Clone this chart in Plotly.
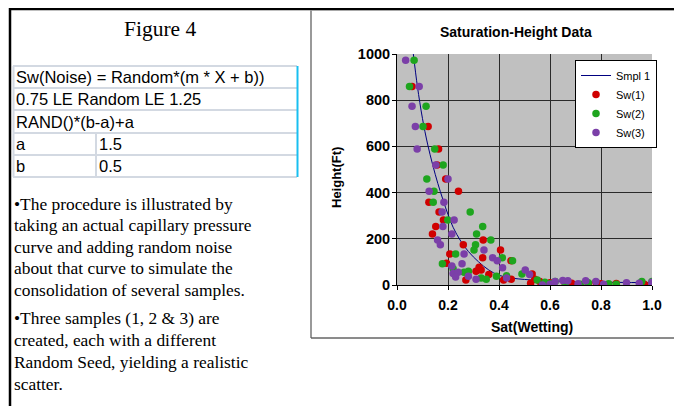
import plotly.graph_objects as go

OFF = 8  # page body margin
W, H = 682 - OFF, 406 - OFF

# ---------------- data ----------------
curve_sat = [0.064, 0.08, 0.10, 0.12, 0.14, 0.16, 0.18, 0.20, 0.22, 0.25, 0.28, 0.32, 0.36, 0.40, 0.45, 0.50, 0.55, 0.60, 0.70, 0.80, 0.90, 1.0]
curve_h = [1000, 860, 720, 610, 520, 440, 370, 305, 250, 190, 145, 100, 65, 42, 30, 24, 20, 17, 14, 12, 11, 10]

sw1_sat = [0.059, 0.122, 0.163, 0.157, 0.191, 0.241, 0.125, 0.165, 0.182, 0.152, 0.139, 0.338, 0.26, 0.406, 0.207, 0.336,
           0.447, 0.194, 0.322, 0.33, 0.31, 0.36, 0.27, 0.418, 0.448, 0.53, 0.54, 0.524, 0.56, 0.6, 0.66, 0.685, 0.75, 0.78, 0.8, 0.86, 0.97, 1.0]
sw1_h = [859, 686, 589, 520, 459, 406, 358, 316, 281, 253, 221, 195, 174, 152, 134, 118,
         105, 94, 77, 65, 60, 45, 22, 22, 25, 48, 25, 8, 15, 10, 5, 8, 5, 12, 5, 7, 3, 5]

sw2_sat = [0.067, 0.049, 0.114, 0.102, 0.148, 0.181, 0.117, 0.145, 0.142, 0.287, 0.199, 0.336, 0.312, 0.368, 0.308, 0.302,
           0.23, 0.413, 0.453, 0.178, 0.22, 0.263, 0.28, 0.33, 0.35, 0.39, 0.43, 0.49, 0.55, 0.58, 0.6, 0.62, 0.66, 0.72, 0.75, 0.83, 0.86, 0.96, 1.0]
sw2_h = [973, 859, 774, 686, 589, 520, 459, 406, 358, 316, 281, 253, 221, 195, 174, 152,
         134, 118, 105, 92, 70, 55, 60, 30, 25, 38, 40, 48, 22, 12, 5, 15, 8, 3, 10, 5, 3, 15, 15]

sw3_sat = [0.034, 0.087, 0.059, 0.072, 0.079, 0.152, 0.2, 0.126, 0.184, 0.177, 0.224, 0.18, 0.215, 0.159, 0.17, 0.341,
           0.263, 0.375, 0.393, 0.215, 0.255, 0.22, 0.24, 0.23, 0.28, 0.31, 0.43, 0.414, 0.503, 0.52, 0.57, 0.6, 0.62, 0.65,
           0.67, 0.71, 0.74, 0.78, 0.81, 0.9, 0.95, 1.0, 1.0]
sw3_h = [973, 859, 774, 686, 589, 520, 459, 406, 358, 316, 281, 253, 221, 195, 174, 152,
         134, 118, 105, 82, 92, 50, 55, 35, 38, 25, 30, 75, 65, 45, 0, 3, 15, 20,
         18, 5, 18, 15, 3, 10, 8, 12, 0]

x_ticks = [0.0, 0.2, 0.4, 0.6, 0.8, 1.0]
x_ticktext = ["0.0", "0.2", "0.4", "0.6", "0.8", "1.0"]
y_ticks = [0, 200, 400, 600, 800, 1000]
y_ticktext = ["0", "200", "400", "600", "800", "1000"]

table_rows = ["Sw(Noise) = Random*(m * X + b))", "0.75 LE Random LE 1.25", "RAND()*(b-a)+a"]
param_names = ["a", "b"]
param_values = ["1.5", "0.5"]

body_lines = [
    "•The procedure is illustrated by",
    "taking an actual capillary pressure",
    "curve and adding random noise",
    "about that curve to simulate the",
    "consolidation of several samples.",
    "•Three samples (1, 2 & 3) are",
    "created, each with a different",
    "Random Seed, yielding a realistic",
    "scatter.",
]
body_y = [204, 225, 247, 268, 290, 318, 340, 362, 384]

# ---------------- helpers (page pixel -> paper fraction) ----------------
def X(px):
    return (px - OFF) / W

def Y(py):
    return 1 - (py - OFF) / H

fig = go.Figure()

fig.add_trace(go.Scatter(x=curve_sat, y=curve_h, mode="lines", name="Smpl 1",
                         line=dict(color="#000080", width=1, shape="spline")))
fig.add_trace(go.Scatter(x=sw1_sat, y=sw1_h, mode="markers", name="Sw(1)",
                         marker=dict(color="#d00000", size=7.5, line=dict(width=0))))
fig.add_trace(go.Scatter(x=sw2_sat, y=sw2_h, mode="markers", name="Sw(2)",
                         marker=dict(color="#1ea51e", size=7.5, line=dict(width=0))))
fig.add_trace(go.Scatter(x=sw3_sat, y=sw3_h, mode="markers", name="Sw(3)",
                         marker=dict(color="#7b3fa8", size=7.5, line=dict(width=0))))

shapes = []
# page frame lines
shapes.append(dict(type="line", xref="paper", yref="paper", x0=X(9), x1=X(682), y0=Y(9), y1=Y(9),
                   line=dict(color="black", width=2.5)))
shapes.append(dict(type="line", xref="paper", yref="paper", x0=X(10), x1=X(10), y0=Y(8), y1=Y(406),
                   line=dict(color="black", width=2.5)))
# chart box
shapes.append(dict(type="rect", xref="paper", yref="paper", x0=X(311), x1=X(681.5), y0=Y(10.5), y1=Y(338),
                   line=dict(color="#a8a8a8", width=1)))
shapes.append(dict(type="line", xref="paper", yref="paper", x0=X(311), x1=X(311), y0=Y(10), y1=Y(338),
                   line=dict(color="#999999", width=2)))
shapes.append(dict(type="line", xref="paper", yref="paper", x0=X(311), x1=X(682), y0=Y(338), y1=Y(338),
                   line=dict(color="#444444", width=1.2)))
# table
row_edges = [66, 88, 110, 133, 155, 177]
tcol = "#d3d9e2"
for ry in row_edges:
    shapes.append(dict(type="line", xref="paper", yref="paper", x0=X(13), x1=X(297), y0=Y(ry), y1=Y(ry),
                       line=dict(color=tcol, width=2)))
shapes.append(dict(type="line", xref="paper", yref="paper", x0=X(13.5), x1=X(13.5), y0=Y(66), y1=Y(177),
                   line=dict(color=tcol, width=2)))
shapes.append(dict(type="line", xref="paper", yref="paper", x0=X(96), x1=X(96), y0=Y(133), y1=Y(177),
                   line=dict(color=tcol, width=2)))
shapes.append(dict(type="line", xref="paper", yref="paper", x0=X(297.5), x1=X(297.5), y0=Y(66), y1=Y(177),
                   line=dict(color="#18bff0", width=2)))

annotations = []
annotations.append(dict(text="Figure 4", xref="paper", yref="paper", x=X(160), y=Y(29), showarrow=False,
                        xanchor="center", yanchor="middle",
                        font=dict(family="Liberation Serif", size=21.5, color="black")))
row_centers = [77, 99, 121.5, 144, 166]
for i, t in enumerate(table_rows):
    annotations.append(dict(text=t, xref="paper", yref="paper", x=X(14), y=Y(row_centers[i]), showarrow=False,
                            xanchor="left", yanchor="middle",
                            font=dict(family="Liberation Sans", size=16.5, color="black")))
for j in range(2):
    annotations.append(dict(text=param_names[j], xref="paper", yref="paper", x=X(14), y=Y(row_centers[3 + j]),
                            showarrow=False, xanchor="left", yanchor="middle",
                            font=dict(family="Liberation Sans", size=16.5, color="black")))
    annotations.append(dict(text=param_values[j], xref="paper", yref="paper", x=X(97), y=Y(row_centers[3 + j]),
                            showarrow=False, xanchor="left", yanchor="middle",
                            font=dict(family="Liberation Sans", size=16.5, color="black")))
for t, yy in zip(body_lines, body_y):
    annotations.append(dict(text=t, xref="paper", yref="paper", x=X(12), y=Y(yy), showarrow=False,
                            xanchor="left", yanchor="middle",
                            font=dict(family="Liberation Serif", size=17.4, color="black")))
# chart title and axis titles
annotations.append(dict(text="<b>Saturation-Height Data</b>", xref="paper", yref="paper", x=X(516), y=Y(32),
                        showarrow=False, xanchor="center", yanchor="middle",
                        font=dict(family="Liberation Sans", size=14, color="black")))
annotations.append(dict(text="<b>Sat(Wetting)</b>", xref="paper", yref="paper", x=X(532), y=Y(327),
                        showarrow=False, xanchor="center", yanchor="middle",
                        font=dict(family="Liberation Sans", size=14, color="black")))
annotations.append(dict(text="<b>Height(Ft)</b>", xref="paper", yref="paper", x=X(337), y=Y(178),
                        showarrow=False, xanchor="center", yanchor="middle", textangle=-90,
                        font=dict(family="Liberation Sans", size=13, color="black")))

fig.update_layout(
    width=W, height=H,
    margin=dict(l=0, r=0, t=0, b=0, autoexpand=False),
    paper_bgcolor="white",
    plot_bgcolor="#c0c0c0",
    shapes=shapes,
    annotations=annotations,
    showlegend=True,
    legend=dict(x=X(575), y=Y(60), xanchor="left", yanchor="top",
                bgcolor="white", bordercolor="black", borderwidth=1,
                font=dict(family="Liberation Sans", size=11, color="black"),
                itemwidth=30, tracegroupgap=0),
    xaxis=dict(domain=[X(397), X(652)], range=[0, 1], tickvals=x_ticks, ticktext=x_ticktext,
               automargin=False,
               showgrid=True, gridcolor="#2a2a2a", gridwidth=1, zeroline=False,
               showline=True, linecolor="black", linewidth=1, mirror=False,
               ticks="outside", ticklen=4, tickcolor="black", ticklabelstandoff=3,
               tickfont=dict(family="Liberation Sans", size=14, color="black", weight="bold")),
    yaxis=dict(domain=[Y(285), Y(54)], range=[0, 1000], tickvals=y_ticks, ticktext=y_ticktext,
               automargin=False,
               showgrid=True, gridcolor="#2a2a2a", gridwidth=1, zeroline=False,
               showline=True, linecolor="black", linewidth=1,
               ticks="outside", ticklen=4, tickcolor="black", ticklabelstandoff=-1,
               tickfont=dict(family="Liberation Sans", size=14.5, color="black", weight="bold")),
)

fig.write_html("out.html")
